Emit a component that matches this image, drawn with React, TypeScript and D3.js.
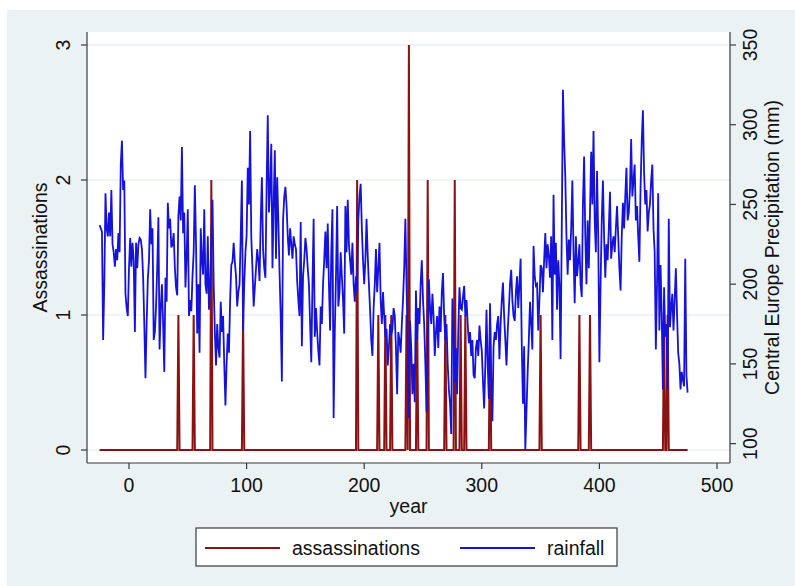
import React from "react";
import * as d3 from "d3";

// yearly series, starting at year -25
const startYear = -25;
const rainfall = [
  237, 235, 233, 165, 200, 257, 235, 230, 245, 230,
  259, 225, 220, 211, 222, 215, 232, 220, 275, 290,
  259, 265, 194, 185, 180, 210, 229, 211, 226, 215,
  170, 226, 210, 225, 229, 228, 222, 205, 175, 141,
  175, 203, 215, 247, 225, 235, 165, 170, 186, 210,
  242, 159, 185, 200, 175, 145, 204, 189, 251, 235,
  241, 223, 225, 232, 210, 198, 193, 243, 255, 240,
  286, 232, 245, 198, 217, 247, 180, 190, 183, 205,
  220, 262, 225, 169, 200, 157, 235, 215, 206, 247,
  200, 194, 230, 184, 200, 225, 253, 200, 170, 149,
  175, 160, 154, 189, 170, 180, 150, 124, 150, 169,
  157, 190, 212, 214, 226, 214, 205, 186, 195, 200,
  230, 265, 171, 200, 220, 230, 273, 250, 296, 229,
  210, 186, 198, 210, 222, 215, 202, 240, 267, 222,
  210, 204, 260, 306, 245, 260, 288, 210, 250, 284,
  216, 267, 240, 208, 180, 139, 240, 255, 261, 249,
  230, 218, 235, 225, 216, 230, 225, 222, 202, 190,
  180, 239, 161, 205, 215, 229, 222, 210, 200, 175,
  151, 200, 241, 167, 185, 170, 158, 149, 186, 175,
  200, 215, 233, 210, 238, 200, 171, 220, 247, 116,
  170, 205, 249, 186, 195, 220, 205, 190, 169, 249,
  220, 253, 225, 215, 206, 226, 200, 189, 205, 195,
  240, 255, 263, 235, 215, 200, 215, 241, 218, 200,
  184, 165, 155, 185, 200, 222, 195, 210, 226, 190,
  175, 195, 180, 167, 172, 149, 160, 175, 168, 172,
  185, 180, 160, 131, 170, 165, 157, 175, 190, 210,
  241, 200, 160, 116, 177, 160, 131, 150, 126, 196,
  165, 185, 175, 200, 215, 190, 175, 150, 120, 160,
  203, 185, 175, 194, 180, 155, 170, 180, 160, 186,
  170, 195, 207, 180, 165, 175, 150, 134, 125, 106,
  191, 170, 139, 160, 131, 170, 198, 185, 184, 192,
  199, 180, 190, 175, 163, 170, 155, 165, 143, 141,
  160, 165, 155, 174, 165, 158, 139, 122, 150, 184,
  150, 128, 188, 140, 114, 161, 170, 165, 175, 180,
  153, 175, 190, 201, 180, 165, 149, 170, 184, 200,
  209, 190, 180, 177, 195, 205, 185, 200, 216, 161,
  125, 161, 96, 120, 145, 165, 189, 175, 159, 224,
  205, 199, 200, 171, 190, 212, 210, 195, 215, 232,
  210, 225, 218, 204, 230, 165, 256, 206, 226, 184,
  215, 200, 153, 235, 322, 290, 267, 230, 206, 228,
  215, 235, 265, 220, 188, 230, 205, 214, 225, 200,
  192, 250, 280, 230, 200, 240, 210, 245, 283, 250,
  296, 240, 220, 271, 230, 151, 200, 240, 265, 230,
  204, 225, 215, 235, 258, 216, 225, 230, 220, 235,
  249, 230, 210, 196, 230, 251, 235, 255, 273, 240,
  245, 260, 291, 255, 265, 275, 240, 249, 230, 214,
  260, 290, 309, 270, 250, 259, 233, 245, 250, 265,
  275, 235, 220, 159, 200, 257, 171, 212, 180, 134,
  198, 167, 175, 134, 241, 173, 185, 194, 171, 190,
  210, 182, 157, 150, 134, 145, 140, 136, 216, 143,
  132,
];

// years with at least one assassination, and how many
const assassinationYears = [
  42, 55, 70, 97, 194, 212, 218, 223, 236, 238, 245,
  254, 269, 277, 282, 286, 307, 350, 383, 392, 455, 458,
];
const assassinationCounts = [
  1, 1, 2, 1, 2, 1, 1, 1, 1, 3, 1,
  2, 1, 2, 1, 1, 1, 1, 1, 1, 1, 1,
];

const xTicks = [0, 100, 200, 300, 400, 500];
const leftTicks = [0, 1, 2, 3];
const rightTicks = [100, 150, 200, 250, 300, 350];

const W = 795;
const H = 586;
const FONT = "'Liberation Sans', Arial, Helvetica, sans-serif";
const BG = "#eaf2f3";
const AXIS = "#3a3a3a";
const RED = "#8a1212";
const BLUE = "#1512dc";

export default function App() {
  const years = rainfall.map((_, i) => startYear + i);
  const assassinations = years.map((yr) => {
    const k = assassinationYears.indexOf(yr);
    return k < 0 ? 0 : assassinationCounts[k];
  });

  const frame = { left: 87, right: 730, top: 32, bottom: 463 };

  const x = d3.scaleLinear().domain([0, 500]).range([129, 717]);
  const yL = d3.scaleLinear().domain([0, 3]).range([450, 45]);
  const yR = d3
    .scaleLinear()
    .domain([Math.min(d3.min(rainfall) as number, 100), 350])
    .range([450, 45]);

  const redLine = d3
    .line<number>()
    .x((_, i) => x(years[i]))
    .y((d) => yL(d));
  const blueLine = d3
    .line<number>()
    .x((_, i) => x(years[i]))
    .y((d) => yR(d));

  const fs = 19.5;

  return (
    <div style={{ position: "absolute", left: 0, top: 0 }}>
      <svg width={W} height={H} style={{ display: "block", fontFamily: FONT }}>
        <rect x={0} y={0} width={W} height={H} fill="#ffffff" />
        <rect x={7} y={10} width={W - 7} height={H - 10} fill={BG} />
        <rect
          x={frame.left}
          y={frame.top}
          width={frame.right - frame.left}
          height={frame.bottom - frame.top}
          fill="#ffffff"
        />

        {/* grid */}
        {leftTicks.map((t) => (
          <line
            key={"g" + t}
            x1={frame.left}
            x2={frame.right}
            y1={yL(t)}
            y2={yL(t)}
            stroke={BG}
            strokeWidth={1.3}
          />
        ))}

        {/* series */}
        <path d={redLine(assassinations) || ""} fill="none" stroke={RED} strokeWidth={2} />
        <path d={blueLine(rainfall) || ""} fill="none" stroke={BLUE} strokeWidth={1.8} />

        {/* axes */}
        <g stroke={AXIS} strokeWidth={1.2}>
          <line x1={frame.left} x2={frame.left} y1={frame.top} y2={frame.bottom} />
          <line x1={frame.right} x2={frame.right} y1={frame.top} y2={frame.bottom} />
          <line x1={frame.left} x2={frame.right} y1={frame.bottom} y2={frame.bottom} />
          {leftTicks.map((t) => (
            <line key={"lt" + t} x1={frame.left - 6} x2={frame.left} y1={yL(t)} y2={yL(t)} />
          ))}
          {rightTicks.map((t) => (
            <line key={"rt" + t} x1={frame.right} x2={frame.right + 6} y1={yR(t)} y2={yR(t)} />
          ))}
          {xTicks.map((t) => (
            <line key={"xt" + t} x1={x(t)} x2={x(t)} y1={frame.bottom} y2={frame.bottom + 6} />
          ))}
        </g>

        <g fill="#111" fontSize={fs}>
          {leftTicks.map((t) => (
            <text
              key={"ll" + t}
              transform={`translate(62.5, ${yL(t)}) rotate(-90)`}
              textAnchor="middle"
              dy="0.36em"
            >
              {t}
            </text>
          ))}
          {rightTicks.map((t) => (
            <text
              key={"rl" + t}
              transform={`translate(750, ${yR(t)}) rotate(-90)`}
              textAnchor="middle"
              dy="0.36em"
            >
              {t}
            </text>
          ))}
          {xTicks.map((t) => (
            <text key={"xl" + t} x={x(t)} y={492} textAnchor="middle">
              {t}
            </text>
          ))}
          <text x={(frame.left + frame.right) / 2} y={513} textAnchor="middle">
            year
          </text>
          <text
            transform={`translate(39.5, ${(frame.top + frame.bottom) / 2}) rotate(-90)`}
            textAnchor="middle"
            dy="0.36em"
          >
            Assassinations
          </text>
          <text
            transform={`translate(772, ${(frame.top + frame.bottom) / 2}) rotate(-90)`}
            textAnchor="middle"
            dy="0.36em"
          >
            Central Europe Precipitation (mm)
          </text>
        </g>

        {/* legend */}
        <g>
          <rect x={196} y={528} width={421} height={38} fill="#ffffff" stroke={AXIS} strokeWidth={1.2} />
          <line x1={205} x2={280} y1={548} y2={548} stroke={RED} strokeWidth={2} />
          <text x={292} y={555} fontSize={fs} fill="#111">
            assassinations
          </text>
          <line x1={460} x2={535} y1={548} y2={548} stroke={BLUE} strokeWidth={2} />
          <text x={547} y={555} fontSize={fs} fill="#111">
            rainfall
          </text>
        </g>
      </svg>
    </div>
  );
}
